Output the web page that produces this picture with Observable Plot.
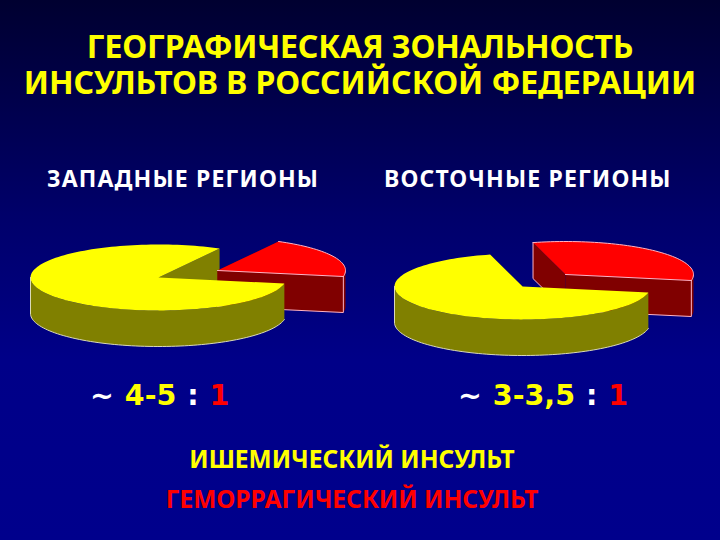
<!DOCTYPE html>
<html lang="ru"><head><meta charset="utf-8">
<script src="https://cdn.jsdelivr.net/npm/d3@7"></script>
<script src="https://cdn.jsdelivr.net/npm/@observablehq/plot@0.6"></script>
<style>
html,body{margin:0;padding:0;width:720px;height:540px;overflow:hidden}
#slide{position:relative;width:720px;height:540px;overflow:hidden;
 background:linear-gradient(180deg,#000030 0,#00006a 215px,#000088 360px,#00008c 540px);
 font-family:"Noto Sans",sans-serif;font-weight:700}
.t{position:absolute;left:0;white-space:nowrap;line-height:1;transform-origin:0 0}
.c{left:0;width:720px;text-align:center}
svg{position:absolute;left:0;top:225px;background:transparent}
</style></head><body><div id="slide"></div>
<script>
const titleLines = ["ГЕОГРАФИЧЕСКАЯ ЗОНАЛЬНОСТЬ","ИНСУЛЬТОВ В РОССИЙСКОЙ ФЕДЕРАЦИИ"];
const regions = ["ЗАПАДНЫЕ РЕГИОНЫ","ВОСТОЧНЫЕ РЕГИОНЫ"];
const ischemicShare = [80,68];
const hemorrhagicShare = [20,32];
const ratioLabels = ["4-5","3-3,5"];
const legendLabels = ["ИШЕМИЧЕСКИЙ ИНСУЛЬТ","ГЕМОРРАГИЧЕСКИЙ ИНСУЛЬТ"];

// pie projection
const rx=128, ry=33, depth=36, startAngle=-10.5;
const centres=[[158,277],[522,286]], exploded=[[59,-7],[43,-12]];
const YEL="#ffff00",OLV="#808000",RED="#ff0000",DRK="#800000";
const back=[], front=[], rims=[], redRims=[];
const rad=d=>d*Math.PI/180;
function arc(c,a0,a1,dy=0){const n=Math.max(2,Math.ceil(Math.abs(a1-a0)/2)),o=[];
 for(let i=0;i<=n;i++){const a=rad(a0+(a1-a0)*i/n);o.push([c[0]+rx*Math.cos(a),c[1]-ry*Math.sin(a)+dy]);}return o;}
function poly(list,id,paint,pts){pts.forEach(p=>list.push({id,paint,x:p[0],y:p[1]}));}
function wall(c,a){const p=arc(c,a,a)[0];return [c,p,[p[0],p[1]+depth],[c[0],c[1]+depth]];}
function side(c,a0,a1){return [...arc(c,a0,a1),...arc(c,a1,a0,depth)];}

regions.forEach((r,i)=>{
 const total=ischemicShare[i]+hemorrhagicShare[i];
 const split=startAngle+360*hemorrhagicShare[i]/total, end=startAngle+360;
 const c=centres[i], rc=[c[0]+exploded[i][0],c[1]+exploded[i][1]];
 const pStart=arc(rc,startAngle,startAngle)[0], pSplit=arc(rc,split,split)[0];
 // back layer: yellow's inner wall and the pulled-out red slice
 poly(back,`y${i}w`,OLV,wall(c,split));
 poly(back,`r${i}a`,DRK,wall(rc,split));
 poly(back,`r${i}b`,DRK,wall(rc,startAngle));
 poly(back,`r${i}s`,DRK,side(rc,startAngle,0));
 poly(back,`r${i}t`,RED,[rc,...arc(rc,startAngle,split)]);
 // pale rim of the red slice
 poly(redRims,`ra${i}`,"p",[rc,...arc(rc,startAngle,split).slice(0,1)]);
 poly(redRims,`rb${i}`,"p",arc(rc,split,startAngle));
 poly(redRims,`rv${i}`,"p",[pStart,[pStart[0],pStart[1]+depth],[rc[0],rc[1]+depth]]);
 if(split>90) poly(redRims,`rw${i}`,"p",[pSplit,[pSplit[0],pSplit[1]+depth],[rc[0],rc[1]+depth]]);
 // front layer: yellow body
 poly(front,`y${i}s`,OLV,side(c,180,end));
 poly(front,`y${i}t`,YEL,[c,...arc(c,split,end)]);
 poly(rims,`yb${i}`,"p",arc(c,180,end,depth));
 poly(rims,`yl${i}`,"p",[arc(c,180,180)[0],arc(c,180,180,depth)[0]]);
});

const slide=document.getElementById("slide");
function add(html,cls,top,size,extra=""){const d=document.createElement("div");d.className="t "+cls;
 d.style.cssText=`top:${top}px;font-size:${size}px;${extra}`;d.innerHTML=html;slide.appendChild(d);return d;}
add(`<span style="letter-spacing:-.23px">${titleLines[0]}</span><br><span style="letter-spacing:-.07px">${titleLines[1]}</span>`,"c",28,32,"color:#ffff00;line-height:36px");
add(regions[0],"",167,23,"left:47px;color:#fff;letter-spacing:1.15px");
add(regions[1],"",167,23,"left:384px;color:#fff;letter-spacing:1.15px");

slide.appendChild(Plot.plot({
 width:720,height:135,margin:0,
 x:{domain:[0,720],axis:null},
 y:{domain:[360,225],axis:null},
 style:{background:"transparent"},
 marks:[
  Plot.line(back,{x:"x",y:"y",z:"id",fill:"paint",stroke:"none",curve:"linear"}),
  Plot.line(redRims,{x:"x",y:"y",z:"id",stroke:"#ffb3c4",strokeWidth:1,curve:"linear"}),
  Plot.line(front,{x:"x",y:"y",z:"id",fill:"paint",stroke:"none",curve:"linear"}),
  Plot.line(rims,{x:"x",y:"y",z:"id",stroke:"#d9d9b8",strokeWidth:1,curve:"linear"})
 ]
}));

const ratio=(v)=>`<span style="color:#fff">~</span> <span style="color:#ffff00">${v}</span> <span style="color:#fff">:</span> <span style="color:#ff0000">1</span>`;
add(ratio(ratioLabels[0]),"",382,28.5,'left:90px;font-family:"DejaVu Sans";word-spacing:1px');
add(ratio(ratioLabels[1]),"",382,28.5,'left:458px;font-family:"DejaVu Sans";word-spacing:1px');
add(legendLabels[0],"c",447,24.5,"color:#ffff00;left:-8px");
add(legendLabels[1],"c",487,24.5,"color:#f00;left:-8px");
</script></body></html>
